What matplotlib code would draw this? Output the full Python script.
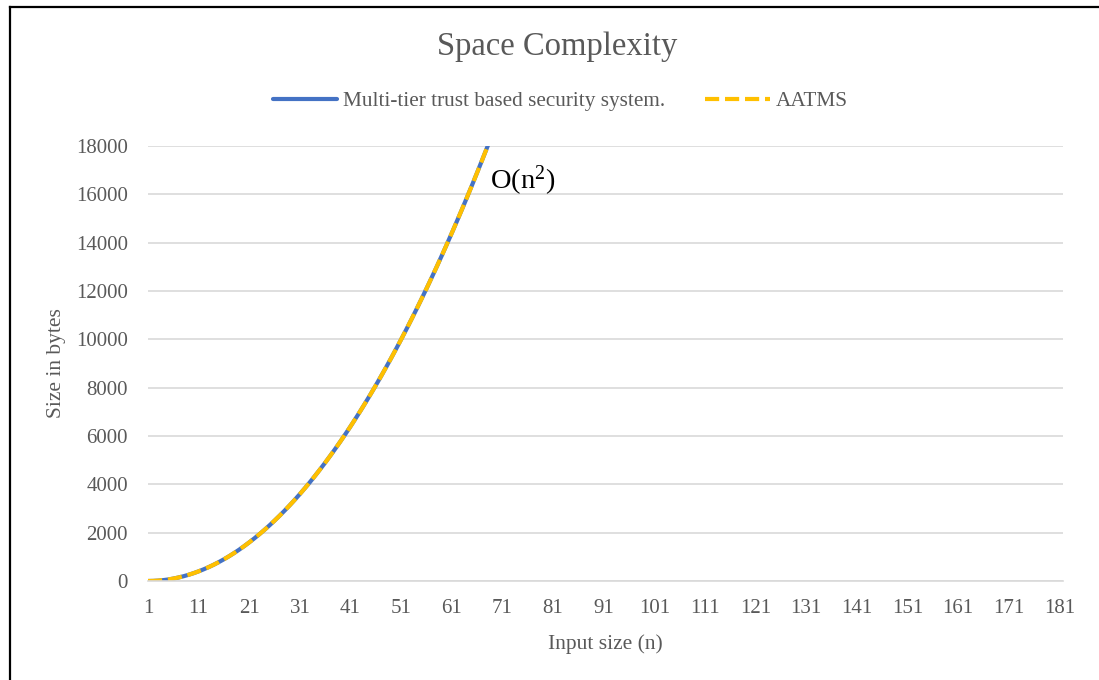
import matplotlib.pyplot as plt
from matplotlib.lines import Line2D

# input size n and memory used (bytes); both systems use the same amount
n_values = list(range(1, 70))
multi_tier_bytes = [0, 4, 16, 36, 64, 100, 144, 196, 256, 324, 400, 484, 576, 676, 784,
                    900, 1024, 1156, 1296, 1444, 1600, 1764, 1936, 2116, 2304, 2500,
                    2704, 2916, 3136, 3364, 3600, 3844, 4096, 4356, 4624, 4900, 5184,
                    5476, 5776, 6084, 6400, 6724, 7056, 7396, 7744, 8100, 8464, 8836,
                    9216, 9604, 10000, 10404, 10816, 11236, 11664, 12100, 12544, 12996,
                    13456, 13924, 14400, 14884, 15376, 15876, 16384, 16900, 17424,
                    17956, 18496]
aatms_bytes = list(multi_tier_bytes)

x_ticks = list(range(1, 182, 10))
y_ticks = list(range(0, 18001, 2000))

serif = "Liberation Serif"
grey = "#595959"
plt.rcParams["font.family"] = serif
plt.rcParams["mathtext.fontset"] = "custom"
plt.rcParams["mathtext.rm"] = serif
plt.rcParams["mathtext.it"] = serif + ":italic"

fig = plt.figure(figsize=(10.99, 6.8), dpi=100)
ax = fig.add_axes([148 / 1099, 1 - 581 / 680, (1063 - 148) / 1099, (581 - 146) / 680])

ax.plot(n_values, multi_tier_bytes, color="#4472C4", lw=3.0,
        solid_capstyle="round", label="Multi-tier trust based security system.")
ax.plot(n_values, aatms_bytes, color="#FFC000", lw=3.0, dashes=(3.4, 1.4),
        label="AATMS")

ax.set_xlim(1, 181.7)
ax.set_ylim(0, 18000)
ax.set_xticks(x_ticks)
ax.set_yticks(y_ticks)
ax.tick_params(length=0, labelsize=15, labelcolor=grey)
ax.tick_params(axis="x", pad=13)
ax.tick_params(axis="y", pad=14.5)
ax.grid(axis="y", color="#D9D9D9", lw=1.2)
ax.set_axisbelow(True)
for side in ["left", "right", "top"]:
    ax.spines[side].set_visible(False)
ax.spines["bottom"].set_color("#D9D9D9")
ax.spines["bottom"].set_linewidth(1.2)

ax.set_xlabel("Input size (n)", fontsize=15.5, color=grey, labelpad=12)
ax.set_ylabel("Size in bytes", fontsize=15.5, color=grey, labelpad=7)

ax.text(68.5, 16550, r"O(n$^2$)", fontsize=20.5, color="black", va="center", ha="left")

fig.text(557 / 1099, 1 - 47 / 680, "Space Complexity", fontsize=23.5, color=grey,
         ha="center", va="center")
fig.legend(loc="center", bbox_to_anchor=(560 / 1099, 1 - 101 / 680), ncol=2,
           frameon=False, fontsize=15.3, labelcolor=grey, handlelength=3.05,
           handletextpad=0.25, columnspacing=1.9)

# frame lines along the top and left edges
fig.add_artist(Line2D([10 / 1099, 10 / 1099], [0, 1 - 6.5 / 680], color="black", lw=1.6))
fig.add_artist(Line2D([10 / 1099, 1], [1 - 6.5 / 680, 1 - 6.5 / 680], color="black", lw=1.6))

fig.savefig("out.png", dpi=100, facecolor="white")
